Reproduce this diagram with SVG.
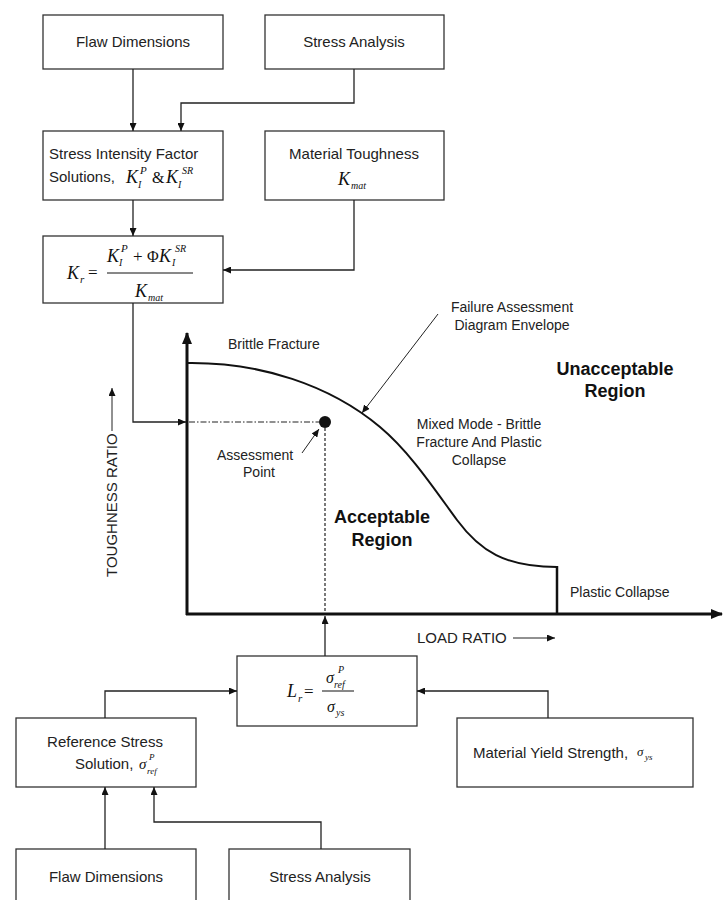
<svg xmlns="http://www.w3.org/2000/svg" width="723" height="900" viewBox="0 0 723 900">
<style>
.box{fill:#fff;stroke:#333;stroke-width:1.3}
.lbl{font-family:"Liberation Sans",Arial,sans-serif;font-size:15px;fill:#222}
.ch{font-family:"Liberation Sans",Arial,sans-serif;font-size:14px;fill:#222}
.big{font-family:"Liberation Sans",Arial,sans-serif;font-size:18px;font-weight:bold;fill:#111}
.m{font-family:"Liberation Serif","Times New Roman",serif;font-style:italic;fill:#111}
.mu{font-family:"Liberation Serif","Times New Roman",serif;fill:#111}
.con{fill:none;stroke:#222;stroke-width:1.3}
.ax{fill:none;stroke:#111;stroke-width:3}
.mid{text-anchor:middle}
</style>
<defs>
<marker id="ah" markerUnits="userSpaceOnUse" markerWidth="8" markerHeight="7" refX="8" refY="3.5" orient="auto"><path d="M0,0 L8,3.5 L0,7 z" fill="#111"/></marker>
<marker id="ahb" markerUnits="userSpaceOnUse" markerWidth="12" markerHeight="10" refX="11" refY="5" orient="auto"><path d="M0,0 L12,5 L0,10 z" fill="#111"/></marker>
</defs>
<rect width="723" height="900" fill="#fff"/>

<g id="n-flaw-top"><rect class="box" x="43" y="15" width="180" height="54"/><text class="lbl mid" x="133" y="47">Flaw Dimensions</text></g>
<g id="n-stress-top"><rect class="box" x="265" y="15" width="179" height="54"/><text class="lbl mid" x="354" y="47">Stress Analysis</text></g>
<g id="n-sif"><rect class="box" x="43" y="131" width="180" height="69"/>
<text class="lbl" x="49" y="159">Stress Intensity Factor</text>
<text class="lbl" x="49" y="182">Solutions,</text>
<text class="m" x="126" y="183" font-size="18">K</text><text class="m" x="140" y="174" font-size="11">P</text><text class="m" x="138" y="188" font-size="10">I</text>
<text class="mu" x="152" y="183" font-size="16">&amp;</text>
<text class="m" x="166" y="183" font-size="18">K</text><text class="m" x="182" y="174" font-size="10">SR</text><text class="m" x="178" y="188" font-size="10">I</text>
</g>
<g id="n-toughness"><rect class="box" x="265" y="131" width="179" height="69"/>
<text class="lbl mid" x="354" y="159">Material Toughness</text>
<text class="m" x="338" y="185" font-size="18">K</text><text class="m" x="351" y="189" font-size="10">mat</text>
</g>
<g id="n-kr"><rect class="box" x="43" y="236" width="180" height="67"/>
<text class="m" x="67" y="279" font-size="18">K</text><text class="m" x="80" y="283" font-size="11">r</text>
<text class="mu" x="88" y="278" font-size="17">=</text>
<line x1="107" y1="273" x2="193" y2="273" stroke="#111" stroke-width="1"/>
<text class="m" x="107" y="262" font-size="18">K</text><text class="m" x="121" y="252" font-size="11">P</text><text class="m" x="119" y="266" font-size="10">I</text>
<text class="mu" x="133" y="262" font-size="17">+</text>
<text class="mu" x="147" y="262" font-size="16">Φ</text>
<text class="m" x="159" y="262" font-size="18">K</text><text class="m" x="175" y="252" font-size="10">SR</text><text class="m" x="172" y="266" font-size="10">I</text>
<text class="m" x="135" y="297" font-size="18">K</text><text class="m" x="148" y="301" font-size="10">mat</text>
</g>

<g id="n-chart">
<line class="ax" x1="187" y1="615" x2="187" y2="333" marker-end="url(#ahb)"/>
<line class="ax" x1="186" y1="614" x2="722" y2="614" marker-end="url(#ahb)"/>
<path d="M187,363 C260,362 330,385 380,427 C410,452 435,490 457,520 C480,551 505,567 557,567" fill="none" stroke="#111" stroke-width="2"/>
<line x1="557" y1="566" x2="557" y2="614" stroke="#111" stroke-width="2.5"/>
<line x1="189" y1="422" x2="319" y2="422" stroke="#222" stroke-width="1.2" stroke-dasharray="6 2 1.5 2"/>
<line x1="325" y1="428" x2="325" y2="612" stroke="#222" stroke-width="1.2" stroke-dasharray="3 2"/>
<circle cx="325" cy="422" r="6" fill="#111"/>
<text class="ch" x="228" y="349" font-size="15">Brittle Fracture</text>
<text class="ch mid" x="512" y="312">Failure Assessment</text>
<text class="ch mid" x="512" y="330">Diagram Envelope</text>
<line x1="438" y1="314" x2="362" y2="413" stroke="#222" stroke-width="1" marker-end="url(#ah)"/>
<text class="big mid" x="615" y="375">Unacceptable</text>
<text class="big mid" x="615" y="397">Region</text>
<text class="ch mid" x="479" y="429">Mixed Mode - Brittle</text>
<text class="ch mid" x="479" y="447">Fracture And Plastic</text>
<text class="ch mid" x="479" y="465">Collapse</text>
<text class="ch mid" x="255" y="460">Assessment</text>
<text class="ch mid" x="259" y="477">Point</text>
<line x1="302" y1="453" x2="319" y2="429" stroke="#222" stroke-width="1" marker-end="url(#ah)"/>
<text class="big mid" x="382" y="523">Acceptable</text>
<text class="big mid" x="382" y="546">Region</text>
<text class="ch" x="570" y="597">Plastic Collapse</text>
<text class="lbl" x="417" y="643">LOAD RATIO</text>
<line x1="513" y1="638" x2="555" y2="638" stroke="#222" stroke-width="1" marker-end="url(#ah)"/>
<text class="lbl" transform="translate(117,577) rotate(-90)">TOUGHNESS RATIO</text>
<line x1="112" y1="431" x2="112" y2="388" stroke="#222" stroke-width="1" marker-end="url(#ah)"/>
</g>

<g id="n-lr"><rect class="box" x="237" y="656" width="180" height="70"/>
<text class="m" x="287" y="697" font-size="18">L</text><text class="m" x="298" y="702" font-size="11">r</text>
<text class="mu" x="304" y="697" font-size="17">=</text>
<line x1="322" y1="691" x2="354" y2="691" stroke="#111" stroke-width="1"/>
<text class="m" x="326" y="683" font-size="16">σ</text><text class="m" x="338" y="673" font-size="10">P</text><text class="m" x="334" y="688" font-size="10">ref</text>
<text class="m" x="327" y="712" font-size="16">σ</text><text class="m" x="336" y="716" font-size="10">ys</text>
</g>
<g id="n-refstress"><rect class="box" x="16" y="718" width="180" height="69"/>
<text class="lbl mid" x="105" y="747">Reference Stress</text>
<text class="lbl" x="75" y="769">Solution,</text>
<text class="m" x="139" y="769" font-size="15">σ</text><text class="m" x="149" y="760" font-size="9">P</text><text class="m" x="147" y="774" font-size="9">ref</text>
</g>
<g id="n-yield"><rect class="box" x="457" y="718" width="236" height="69"/>
<text class="lbl" x="473" y="758" font-size="14.5">Material Yield Strength,</text>
<text class="m" x="637" y="756" font-size="13">σ</text><text class="m" x="645" y="760" font-size="9">ys</text>
</g>
<g id="n-flaw-bot"><rect class="box" x="16" y="849" width="180" height="60"/><text class="lbl mid" x="106" y="882">Flaw Dimensions</text></g>
<g id="n-stress-bot"><rect class="box" x="229" y="849" width="181" height="60"/><text class="lbl mid" x="320" y="882">Stress Analysis</text></g>

<g id="connectors">
<path class="con" d="M133,69 V131" marker-end="url(#ah)"/>
<path class="con" d="M354,69 V103 H181 V131" marker-end="url(#ah)"/>
<path class="con" d="M133,200 V236" marker-end="url(#ah)"/>
<path class="con" d="M354,200 V270 H223" marker-end="url(#ah)"/>
<path class="con" d="M133,303 V422 H186" marker-end="url(#ah)"/>
<path class="con" d="M325,656 V616" marker-end="url(#ah)"/>
<path class="con" d="M105,718 V691 H237" marker-end="url(#ah)"/>
<path class="con" d="M548,718 V691 H417" marker-end="url(#ah)"/>
<path class="con" d="M105,849 V787" marker-end="url(#ah)"/>
<path class="con" d="M321,849 V822 H154 V787" marker-end="url(#ah)"/>
</g>
</svg>
